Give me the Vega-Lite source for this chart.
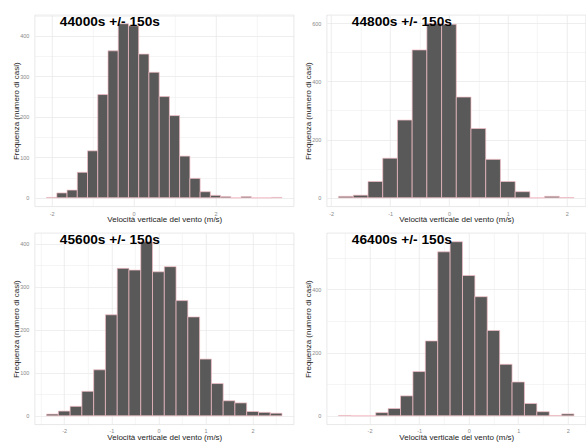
{
  "$schema": "https://vega.github.io/schema/vega-lite/v6.json",
  "background": "white",
  "autosize": {"type": "pad"},
  "padding": {"left": 11.8, "top": 14, "right": 0, "bottom": 0},
  "columns": 2,
  "spacing": {"row": 26, "column": 33},
  "bounds": "flush",
  "config": {
    "font": "Liberation Sans",
    "view": {"stroke": "#d9d9d9", "strokeWidth": 0.6},
    "axis": {
      "domain": false,
      "ticks": false,
      "tickSize": 0,
      "labelFont": "Liberation Sans",
      "labelFontSize": 5.5,
      "labelColor": "#8a8a8a",
      "titleFont": "Liberation Sans",
      "titleFontSize": 8,
      "titleFontWeight": "normal",
      "titleColor": "#222222",
      "gridColor": "#e6e6e6"
    },
    "axisX": {"labelPadding": 4.5, "titlePadding": -1},
    "axisY": {"labelPadding": 6, "titlePadding": -0.5},
    "title": {"font": "Liberation Sans", "fontSize": 13.7, "fontWeight": "bold", "color": "#000000", "anchor": "start", "frame": "group", "offset": -3, "baseline": "alphabetic", "dx": 25, "dy": 11}
  },
  "datasets": {
    "p1": [
      {"lo": -2.125, "hi": -1.875, "count": 1},
      {"lo": -1.875, "hi": -1.625, "count": 12},
      {"lo": -1.625, "hi": -1.375, "count": 19},
      {"lo": -1.375, "hi": -1.125, "count": 63},
      {"lo": -1.125, "hi": -0.875, "count": 116},
      {"lo": -0.875, "hi": -0.625, "count": 255},
      {"lo": -0.625, "hi": -0.375, "count": 363},
      {"lo": -0.375, "hi": -0.125, "count": 430},
      {"lo": -0.125, "hi": 0.125, "count": 425},
      {"lo": 0.125, "hi": 0.375, "count": 355},
      {"lo": 0.375, "hi": 0.625, "count": 310},
      {"lo": 0.625, "hi": 0.875, "count": 250},
      {"lo": 0.875, "hi": 1.125, "count": 203},
      {"lo": 1.125, "hi": 1.375, "count": 103},
      {"lo": 1.375, "hi": 1.625, "count": 48},
      {"lo": 1.625, "hi": 1.875, "count": 15},
      {"lo": 1.875, "hi": 2.125, "count": 6},
      {"lo": 2.125, "hi": 2.375, "count": 3},
      {"lo": 2.375, "hi": 2.625, "count": 0},
      {"lo": 2.625, "hi": 2.875, "count": 3},
      {"lo": 2.875, "hi": 3.125, "count": 0},
      {"lo": 3.125, "hi": 3.375, "count": 0},
      {"lo": 3.375, "hi": 3.625, "count": 1}
    ],
    "p2": [
      {"lo": -1.875, "hi": -1.625, "count": 5},
      {"lo": -1.625, "hi": -1.375, "count": 9},
      {"lo": -1.375, "hi": -1.125, "count": 56},
      {"lo": -1.125, "hi": -0.875, "count": 136},
      {"lo": -0.875, "hi": -0.625, "count": 267},
      {"lo": -0.625, "hi": -0.375, "count": 508},
      {"lo": -0.375, "hi": -0.125, "count": 598},
      {"lo": -0.125, "hi": 0.125, "count": 596},
      {"lo": 0.125, "hi": 0.375, "count": 346},
      {"lo": 0.375, "hi": 0.625, "count": 238},
      {"lo": 0.625, "hi": 0.875, "count": 132},
      {"lo": 0.875, "hi": 1.125, "count": 56},
      {"lo": 1.125, "hi": 1.375, "count": 21},
      {"lo": 1.375, "hi": 1.625, "count": 0},
      {"lo": 1.625, "hi": 1.875, "count": 5},
      {"lo": 1.875, "hi": 2.125, "count": 1}
    ],
    "p3": [
      {"lo": -2.375, "hi": -2.125, "count": 4},
      {"lo": -2.125, "hi": -1.875, "count": 11},
      {"lo": -1.875, "hi": -1.625, "count": 22},
      {"lo": -1.625, "hi": -1.375, "count": 57},
      {"lo": -1.375, "hi": -1.125, "count": 107},
      {"lo": -1.125, "hi": -0.875, "count": 235},
      {"lo": -0.875, "hi": -0.625, "count": 343},
      {"lo": -0.625, "hi": -0.375, "count": 339},
      {"lo": -0.375, "hi": -0.125, "count": 405},
      {"lo": -0.125, "hi": 0.125, "count": 335},
      {"lo": 0.125, "hi": 0.375, "count": 347},
      {"lo": 0.375, "hi": 0.625, "count": 268},
      {"lo": 0.625, "hi": 0.875, "count": 230},
      {"lo": 0.875, "hi": 1.125, "count": 132},
      {"lo": 1.125, "hi": 1.375, "count": 75},
      {"lo": 1.375, "hi": 1.625, "count": 35},
      {"lo": 1.625, "hi": 1.875, "count": 30},
      {"lo": 1.875, "hi": 2.125, "count": 10},
      {"lo": 2.125, "hi": 2.375, "count": 8},
      {"lo": 2.375, "hi": 2.625, "count": 6}
    ],
    "p4": [
      {"lo": -2.625, "hi": -2.375, "count": 1},
      {"lo": -2.375, "hi": -2.125, "count": 0},
      {"lo": -2.125, "hi": -1.875, "count": 0},
      {"lo": -1.875, "hi": -1.625, "count": 10},
      {"lo": -1.625, "hi": -1.375, "count": 23},
      {"lo": -1.375, "hi": -1.125, "count": 63},
      {"lo": -1.125, "hi": -0.875, "count": 140},
      {"lo": -0.875, "hi": -0.625, "count": 237},
      {"lo": -0.625, "hi": -0.375, "count": 519},
      {"lo": -0.375, "hi": -0.125, "count": 551},
      {"lo": -0.125, "hi": 0.125, "count": 444},
      {"lo": 0.125, "hi": 0.375, "count": 377},
      {"lo": 0.375, "hi": 0.625, "count": 270},
      {"lo": 0.625, "hi": 0.875, "count": 163},
      {"lo": 0.875, "hi": 1.125, "count": 107},
      {"lo": 1.125, "hi": 1.375, "count": 39},
      {"lo": 1.375, "hi": 1.625, "count": 13},
      {"lo": 1.625, "hi": 1.875, "count": 1},
      {"lo": 1.875, "hi": 2.125, "count": 6}
    ]
  },
  "concat": [
    {
      "width": 259, "height": 191.5,
      "title": {"text": "44000s +/- 150s"},
      "data": {"name": "p1"},
      "mark": {"type": "rect", "fill": "#595959", "stroke": "#f5bfc7", "strokeWidth": 0.7},
      "encoding": {
        "x": {"field": "lo", "type": "quantitative", "title": "Velocità verticale del vento (m/s)",
              "scale": {"domain": [-2.4125, 3.9125], "nice": false, "zero": false},
              "axis": {"values": [-2, -1, 0, 1, 2, 3], "labelExpr": "datum.value % 2 === 0 ? '' + datum.value : ''",
                       "gridWidth": {"condition": {"test": "datum.value % 2 !== 0", "value": 0.4}, "value": 0.7}}},
        "x2": {"field": "hi"},
        "y": {"field": "count", "type": "quantitative", "title": "Frequenza (numero di casi)",
              "scale": {"domain": [-21.5, 451.5], "nice": false, "zero": false},
              "axis": {"values": [0, 50, 100, 150, 200, 250, 300, 350, 400, 450], "labelExpr": "datum.value % 100 === 0 ? '' + datum.value : ''",
                       "gridWidth": {"condition": {"test": "datum.value % 100 !== 0", "value": 0.4}, "value": 0.7}}},
        "y2": {"datum": 0}
      }
    },
    {
      "width": 259, "height": 191.5,
      "title": {"text": "44800s +/- 150s"},
      "data": {"name": "p2"},
      "mark": {"type": "rect", "fill": "#595959", "stroke": "#f5bfc7", "strokeWidth": 0.7},
      "encoding": {
        "x": {"field": "lo", "type": "quantitative", "title": "Velocità verticale del vento (m/s)",
              "scale": {"domain": [-2.075, 2.325], "nice": false, "zero": false},
              "axis": {"values": [-2, -1.5, -1, -0.5, 0, 0.5, 1, 1.5, 2], "labelExpr": "datum.value % 1 === 0 ? '' + datum.value : ''",
                       "gridWidth": {"condition": {"test": "datum.value % 1 !== 0", "value": 0.4}, "value": 0.7}}},
        "x2": {"field": "hi"},
        "y": {"field": "count", "type": "quantitative", "title": "Frequenza (numero di casi)",
              "scale": {"domain": [-29.9, 627.9], "nice": false, "zero": false},
              "axis": {"values": [0, 100, 200, 300, 400, 500, 600], "labelExpr": "datum.value % 200 === 0 ? '' + datum.value : ''",
                       "gridWidth": {"condition": {"test": "datum.value % 200 !== 0", "value": 0.4}, "value": 0.7}}},
        "y2": {"datum": 0}
      }
    },
    {
      "width": 259, "height": 191.5,
      "title": {"text": "45600s +/- 150s"},
      "data": {"name": "p3"},
      "mark": {"type": "rect", "fill": "#595959", "stroke": "#f5bfc7", "strokeWidth": 0.7},
      "encoding": {
        "x": {"field": "lo", "type": "quantitative", "title": "Velocità verticale del vento (m/s)",
              "scale": {"domain": [-2.625, 2.875], "nice": false, "zero": false},
              "axis": {"values": [-2.5, -2, -1.5, -1, -0.5, 0, 0.5, 1, 1.5, 2, 2.5], "labelExpr": "datum.value % 1 === 0 ? '' + datum.value : ''",
                       "gridWidth": {"condition": {"test": "datum.value % 1 !== 0", "value": 0.4}, "value": 0.7}}},
        "x2": {"field": "hi"},
        "y": {"field": "count", "type": "quantitative", "title": "Frequenza (numero di casi)",
              "scale": {"domain": [-20.25, 425.25], "nice": false, "zero": false},
              "axis": {"values": [0, 50, 100, 150, 200, 250, 300, 350, 400], "labelExpr": "datum.value % 100 === 0 ? '' + datum.value : ''",
                       "gridWidth": {"condition": {"test": "datum.value % 100 !== 0", "value": 0.4}, "value": 0.7}}},
        "y2": {"datum": 0}
      }
    },
    {
      "width": 259, "height": 191.5,
      "title": {"text": "46400s +/- 150s"},
      "data": {"name": "p4"},
      "mark": {"type": "rect", "fill": "#595959", "stroke": "#f5bfc7", "strokeWidth": 0.7},
      "encoding": {
        "x": {"field": "lo", "type": "quantitative", "title": "Velocità verticale del vento (m/s)",
              "scale": {"domain": [-2.8625, 2.3625], "nice": false, "zero": false},
              "axis": {"values": [-2.5, -2, -1.5, -1, -0.5, 0, 0.5, 1, 1.5, 2], "labelExpr": "datum.value % 1 === 0 ? '' + datum.value : ''",
                       "gridWidth": {"condition": {"test": "datum.value % 1 !== 0", "value": 0.4}, "value": 0.7}}},
        "x2": {"field": "hi"},
        "y": {"field": "count", "type": "quantitative", "title": "Frequenza (numero di casi)",
              "scale": {"domain": [-27.55, 578.55], "nice": false, "zero": false},
              "axis": {"values": [0, 100, 200, 300, 400, 500], "labelExpr": "datum.value % 200 === 0 ? '' + datum.value : ''",
                       "gridWidth": {"condition": {"test": "datum.value % 200 !== 0", "value": 0.4}, "value": 0.7}}},
        "y2": {"datum": 0}
      }
    }
  ]
}
